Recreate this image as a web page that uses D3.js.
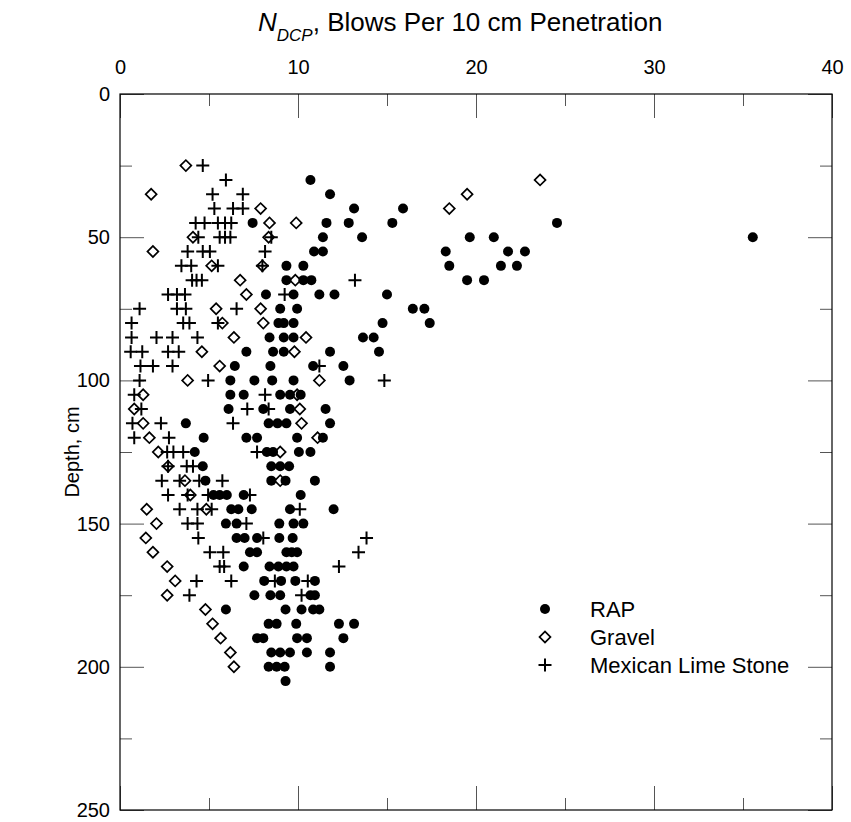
<!DOCTYPE html>
<html>
<head>
<meta charset="utf-8">
<script src="https://cdn.jsdelivr.net/npm/d3@7"></script>
<style>
  html, body { margin: 0; padding: 0; background: #fff; }
  svg { display: block; }
  text { font-family: "Liberation Sans", Arial, Helvetica, sans-serif; fill: #000; }
</style>
</head>
<body>
<svg id="chart" width="851" height="822"></svg>
<script>
// ---- Data (N_DCP value, depth cm) ----
const rapN = [10.7, 11.8, 13.15, 15.9, 7.45, 11.6, 12.85, 15.3, 24.55, 11.4, 13.6, 19.65, 21.0, 35.55,
  10.9, 11.4, 18.3, 21.8, 22.75, 9.35, 10.3, 18.5, 21.4, 22.3, 9.35, 10.3, 10.75, 19.5, 20.45,
  8.2, 9.75, 11.2, 12.05, 15.0, 9.0, 9.95, 16.45, 17.1, 8.9, 9.2, 9.75, 14.75, 17.4,
  8.4, 9.2, 9.75, 13.65, 14.25, 7.1, 8.6, 9.2, 11.8, 14.55, 6.45, 8.45, 10.85, 12.55,
  6.2, 7.55, 8.55, 9.75, 12.9, 6.2, 6.95, 9.0, 9.55, 10.15, 6.1, 8.05, 9.55, 11.55,
  3.7, 8.35, 8.85, 9.35, 11.8, 4.7, 7.1, 7.7, 9.95, 11.4, 4.2, 8.25, 8.6, 10.05, 10.7,
  4.65, 8.5, 9.0, 9.5, 4.8, 8.5, 9.3, 10.95, 5.25, 5.6, 6.0, 6.95, 10.15,
  6.25, 6.65, 7.4, 9.55, 12.0, 5.95, 6.55, 8.95, 9.75, 10.3, 6.55, 7.0, 7.7, 8.95, 9.7,
  7.3, 7.7, 9.35, 9.65, 9.95, 6.95, 8.4, 8.9, 9.35, 9.75, 8.1, 9.05, 9.85, 10.95,
  7.55, 8.45, 9.0, 10.7, 10.95, 5.95, 9.3, 10.2, 10.85, 11.2, 8.35, 8.8, 9.9, 12.3, 13.15,
  7.7, 8.05, 9.95, 10.5, 12.55, 8.5, 9.0, 9.55, 10.5, 11.8, 8.35, 8.8, 9.25, 11.8, 9.3];
const rapDepth = [30, 35, 40, 40, 45, 45, 45, 45, 45, 50, 50, 50, 50, 50,
  55, 55, 55, 55, 55, 60, 60, 60, 60, 60, 65, 65, 65, 65, 65,
  70, 70, 70, 70, 70, 75, 75, 75, 75, 80, 80, 80, 80, 80,
  85, 85, 85, 85, 85, 90, 90, 90, 90, 90, 95, 95, 95, 95,
  100, 100, 100, 100, 100, 105, 105, 105, 105, 105, 110, 110, 110, 110,
  115, 115, 115, 115, 115, 120, 120, 120, 120, 120, 125, 125, 125, 125, 125,
  130, 130, 130, 130, 135, 135, 135, 135, 140, 140, 140, 140, 140,
  145, 145, 145, 145, 145, 150, 150, 150, 150, 150, 155, 155, 155, 155, 155,
  160, 160, 160, 160, 160, 165, 165, 165, 165, 165, 170, 170, 170, 170,
  175, 175, 175, 175, 175, 180, 180, 180, 180, 180, 185, 185, 185, 185, 185,
  190, 190, 190, 190, 190, 195, 195, 195, 195, 195, 200, 200, 200, 200, 205];

const gravelN = [3.7, 23.6, 1.75, 19.5, 7.9, 18.5, 8.4, 9.9, 4.1, 8.35, 1.85, 5.15, 8.0, 6.75, 9.85,
  7.1, 5.4, 7.9, 5.75, 8.05, 6.4, 10.45, 4.6, 9.8, 5.6, 3.8, 11.2, 1.3, 9.95, 0.8, 10.1,
  1.3, 10.2, 1.65, 11.1, 2.15, 9.0, 2.7, 3.65, 9.0, 3.95, 1.5, 4.85, 2.05, 1.45, 1.85,
  2.65, 3.1, 2.65, 4.8, 5.2, 5.65, 6.2, 6.4];
const gravelDepth = [25, 30, 35, 35, 40, 40, 45, 45, 50, 50, 55, 60, 60, 65, 65,
  70, 75, 75, 80, 80, 85, 85, 90, 90, 95, 100, 100, 105, 105, 110, 110,
  115, 115, 120, 120, 125, 125, 130, 135, 135, 140, 145, 145, 150, 155, 160,
  165, 170, 175, 180, 185, 190, 195, 200];

const limeN = [4.65, 5.95, 5.2, 6.9, 5.3, 6.35, 6.9, 4.25, 4.75, 5.5, 5.9, 6.25,
  4.4, 5.6, 5.9, 6.2, 8.5, 3.8, 4.65, 5.05, 8.15, 3.45, 4.0, 5.5, 8.0,
  4.05, 4.3, 4.6, 13.2, 2.7, 3.2, 3.65, 9.25, 1.1, 3.2, 3.7, 6.55,
  0.65, 3.55, 3.9, 5.5, 0.65, 2.05, 2.95, 4.35, 0.6, 1.25, 2.7, 3.3,
  1.15, 1.85, 2.95, 11.2, 1.1, 4.95, 14.85, 0.8, 8.15, 1.2, 7.15, 8.35,
  0.7, 2.3, 6.35, 0.8, 2.75, 2.65, 3.0, 3.55, 7.7, 2.7, 3.75, 4.1,
  2.35, 3.35, 4.45, 5.75, 2.7, 3.8, 4.95, 7.3, 3.35, 4.35, 5.15, 10.1,
  3.8, 4.35, 7.1, 4.4, 8.05, 13.85, 5.05, 5.8, 13.4, 5.6, 5.85, 12.3,
  4.3, 6.25, 8.7, 10.55, 3.9, 10.2];
const limeDepth = [25, 30, 35, 35, 40, 40, 40, 45, 45, 45, 45, 45,
  50, 50, 50, 50, 50, 55, 55, 55, 55, 60, 60, 60, 60,
  65, 65, 65, 65, 70, 70, 70, 70, 75, 75, 75, 75,
  80, 80, 80, 80, 85, 85, 85, 85, 90, 90, 90, 90,
  95, 95, 95, 95, 100, 100, 100, 105, 105, 110, 110, 110,
  115, 115, 115, 120, 120, 125, 125, 125, 125, 130, 130, 130,
  135, 135, 135, 135, 140, 140, 140, 140, 145, 145, 145, 145,
  150, 150, 150, 155, 155, 155, 160, 160, 160, 165, 165, 165,
  170, 170, 170, 170, 175, 175];

const xMajor = [0, 10, 20, 30, 40];
const xMinor = [5, 15, 25, 35];
const yMajor = [0, 50, 100, 150, 200, 250];
const yMinor = [25, 75, 125, 175, 225];
const seriesNames = ["RAP", "Gravel", "Mexican Lime Stone"];

// ---- Layout ----
const svg = d3.select("#chart");
const L = 120, R = 832, T = 94, B = 810;
const x = d3.scaleLinear().domain([0, 40]).range([L, R]);
const y = d3.scaleLinear().domain([0, 250]).range([T, B]);
const majorLen = 24, minorLen = 12;
const tickColor = "#555";
const tickFont = "20px";

function axisGroup(axisFn, ticks, len, transform, labels, pad) {
  const ax = axisFn.tickValues(ticks).tickSizeInner(-len).tickSizeOuter(0).tickPadding(pad);
  if (!labels) ax.tickFormat("");
  const g = svg.append("g").attr("transform", transform).call(ax);
  g.select(".domain").remove();
  g.selectAll(".tick line").attr("stroke", tickColor).attr("stroke-width", 1);
  g.selectAll(".tick text").style("font-family", '"Liberation Sans", Arial, sans-serif').style("font-size", tickFont).attr("fill", "#000");
  return g;
}
// top
axisGroup(d3.axisTop(x), xMajor, majorLen, `translate(0,${T})`, true, 20);
axisGroup(d3.axisTop(x), xMinor, minorLen, `translate(0,${T})`, false, 0);
// bottom
axisGroup(d3.axisBottom(x), xMajor, majorLen, `translate(0,${B})`, false, 0);
axisGroup(d3.axisBottom(x), xMinor, minorLen, `translate(0,${B})`, false, 0);
// left
axisGroup(d3.axisLeft(y), yMajor, majorLen, `translate(${L},0)`, true, 10);
axisGroup(d3.axisLeft(y), yMinor, minorLen, `translate(${L},0)`, false, 0);
// right
axisGroup(d3.axisRight(y), yMajor, majorLen, `translate(${R},0)`, false, 0);
axisGroup(d3.axisRight(y), yMinor, minorLen, `translate(${R},0)`, false, 0);

// frame
svg.append("rect").attr("x", L).attr("y", T).attr("width", R - L).attr("height", B - T)
  .attr("fill", "none").attr("stroke", "#000").attr("stroke-width", 1.2);

// title
const title = svg.append("text").attr("x", 258).attr("y", 31)
  .attr("text-anchor", "start").style("font-size", "26px");
title.append("tspan").attr("font-style", "italic").text("N");
title.append("tspan").attr("font-style", "italic").attr("baseline-shift", "sub").style("font-size", "17px").text("DCP");
title.append("tspan").text(", Blows Per 10 cm Penetration");

// y label
svg.append("text").attr("transform", `translate(79,${(T + B) / 2}) rotate(-90)`)
  .attr("text-anchor", "middle").style("font-size", "20px").text("Depth, cm");

// markers
const diamondPath = d3.symbol(d3.symbolSquare, 60)();
const plusPath = "M-6.5,0H6.5M0,-6.5V6.5";

const gravel = gravelN.map((v, i) => ({ v, d: gravelDepth[i] }));
const rap = rapN.map((v, i) => ({ v, d: rapDepth[i] }));
const lime = limeN.map((v, i) => ({ v, d: limeDepth[i] }));

svg.append("g").selectAll("path").data(gravel).join("path")
  .attr("d", diamondPath)
  .attr("transform", p => `translate(${x(p.v)},${y(p.d)}) rotate(45)`)
  .attr("fill", "none").attr("stroke", "#000").attr("stroke-width", 1.7);

svg.append("g").selectAll("circle").data(rap).join("circle")
  .attr("cx", p => x(p.v)).attr("cy", p => y(p.d)).attr("r", 5).attr("fill", "#000");

svg.append("g").selectAll("path").data(lime).join("path")
  .attr("d", plusPath)
  .attr("transform", p => `translate(${x(p.v)},${y(p.d)})`)
  .attr("fill", "none").attr("stroke", "#000").attr("stroke-width", 2);

// legend
const legX = 545, legTextX = 590, legY0 = 609, legDy = 28;
const leg = svg.append("g");
seriesNames.forEach((name, i) => {
  const cy = legY0 + i * legDy;
  if (i === 0) leg.append("circle").attr("cx", legX).attr("cy", cy).attr("r", 5).attr("fill", "#000");
  if (i === 1) leg.append("path").attr("d", diamondPath).attr("transform", `translate(${legX},${cy}) rotate(45)`)
    .attr("fill", "none").attr("stroke", "#000").attr("stroke-width", 1.7);
  if (i === 2) leg.append("path").attr("d", plusPath).attr("transform", `translate(${legX},${cy})`)
    .attr("fill", "none").attr("stroke", "#000").attr("stroke-width", 2);
  leg.append("text").attr("x", legTextX).attr("y", cy).attr("dy", "0.35em").style("font-size", "22px").text(name);
});
</script>
</body>
</html>
